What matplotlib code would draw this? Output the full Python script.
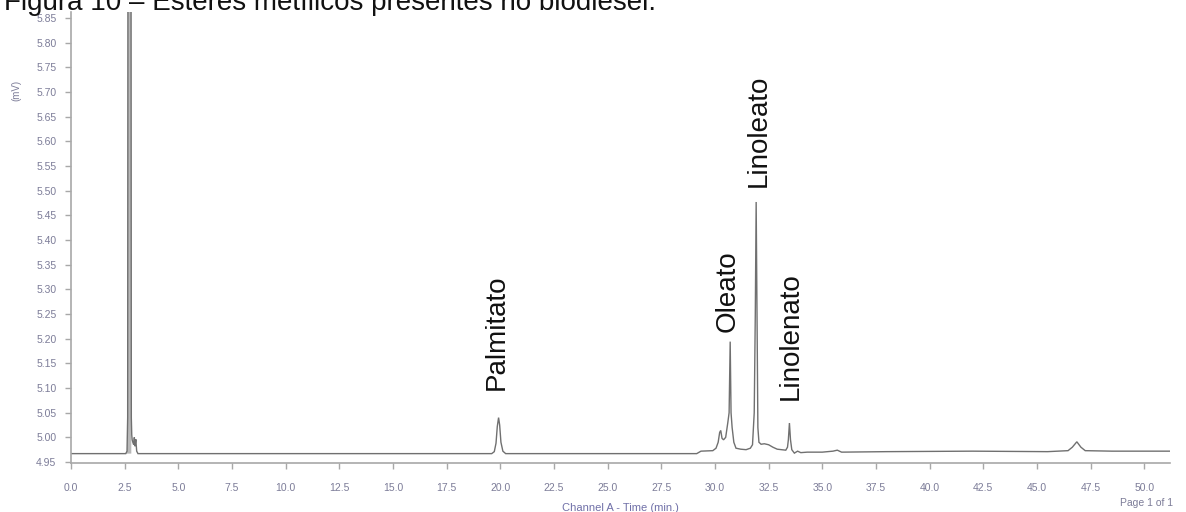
import matplotlib
matplotlib.use("Agg")
import matplotlib.pyplot as plt
from matplotlib.ticker import FixedLocator, FormatStrFormatter

# Chromatogram trace: retention time (min) and detector signal (mV)
time_min = [
    0.00, 2.55, 2.61, 2.64, 2.66, 2.79, 2.81, 2.83, 2.85, 2.88, 2.92, 2.95, 2.98,
    3.02, 3.06, 3.12,
    19.60, 19.72, 19.80, 19.86, 19.92, 19.97, 20.03, 20.12, 20.25,
    29.15, 29.35, 29.90, 30.05, 30.15, 30.22, 30.27, 30.33, 30.40, 30.50, 30.60,
    30.66, 30.71, 30.75, 30.80, 30.88, 30.98, 31.20, 31.45, 31.65, 31.75, 31.83,
    31.88, 31.92, 31.96, 32.00, 32.05, 32.15, 32.30, 32.50, 32.70, 32.90, 33.10,
    33.30, 33.38, 33.42, 33.47, 33.52, 33.58, 33.70, 33.85, 34.00, 34.30, 35.00,
    35.50, 35.70, 35.90, 38.00, 42.00, 45.50, 46.45, 46.65, 46.86, 47.05, 47.25,
    48.50, 51.20,
]
signal_mv = [
    4.967, 4.967, 4.972, 5.040, 6.500, 6.500, 5.040, 5.005, 4.995, 4.990, 4.985, 5.000, 4.982,
    4.996, 4.972, 4.967,
    4.967, 4.971, 4.988, 5.022, 5.040, 5.025, 4.990, 4.972, 4.967,
    4.967, 4.972, 4.973, 4.978, 4.990, 5.010, 5.014, 4.998, 4.995, 5.000, 5.030,
    5.050, 5.194, 5.050, 5.020, 4.990, 4.978, 4.976, 4.975, 4.978, 4.985, 5.050,
    5.250, 5.477, 5.250, 5.020, 4.990, 4.986, 4.987, 4.985, 4.980, 4.976, 4.975,
    4.974, 4.980, 4.995, 5.029, 4.995, 4.975, 4.968, 4.972, 4.969, 4.970, 4.970,
    4.972, 4.974, 4.970, 4.971, 4.972, 4.971, 4.973, 4.980, 4.991, 4.980, 4.973,
    4.972, 4.972,
]

# Identified methyl esters and where their names are written (min, mV)
peak_names = ["Palmitato", "Oleato", "Linoleato", "Linolenato"]
label_x = [19.83, 30.57, 32.06, 33.53]
label_y = [5.2125, 5.2956, 5.621, 5.2054]

x_ticks = [i * 2.5 for i in range(21)]
y_ticks = [4.95 + 0.05 * i for i in range(19)]

W, H = 1186, 512
fig = plt.figure(figsize=(W / 100, H / 100), dpi=100)
ax = fig.add_axes([71 / W, 1 - 463 / H, (1170 - 71) / W, (463 - 12) / H])

trace_color = "#707070"
axis_color = "#a8a8a8"
tick_text = "#7c7c98"

# solvent front drawn as a narrow filled band, then the full trace on top
ax.fill_between(time_min[:7], 4.967, signal_mv[:7], color="#b8b8b8", lw=0)
ax.plot(time_min, signal_mv, color=trace_color, lw=1.0, solid_joinstyle="miter")

ax.set_xlim(0, 51.2)
ax.set_ylim(4.948, 5.862)

for side in ("top", "right"):
    ax.spines[side].set_visible(False)
for side in ("left", "bottom"):
    ax.spines[side].set_color(axis_color)
    ax.spines[side].set_linewidth(1.2)

ax.xaxis.set_major_locator(FixedLocator(x_ticks))
ax.yaxis.set_major_locator(FixedLocator(y_ticks))
ax.xaxis.set_major_formatter(FormatStrFormatter("%.1f"))
ax.yaxis.set_major_formatter(FormatStrFormatter("%.2f"))
ax.tick_params(axis="both", colors=axis_color, labelcolor=tick_text,
               labelsize=7.5, width=1.0, length=4.5, direction="out")
ax.tick_params(axis="y", pad=6)
ax.tick_params(axis="x", pad=10)
for lab in ax.get_xticklabels() + ax.get_yticklabels():
    lab.set_family("Liberation Sans")

ax.set_ylabel("(mV)", fontsize=7, color=tick_text, family="Liberation Sans",
              labelpad=0)
ax.yaxis.set_label_coords(-50 / (1170 - 71), (463 - 90) / (463 - 12))

for name, lx, ly in zip(peak_names, label_x, label_y):
    ax.text(lx, ly, name, rotation=90, ha="center", va="center",
            fontsize=20, family="Liberation Sans", color="#111111")

fig.text(620 / W, 1 - 508 / H, "Channel A - Time (min.)", ha="center",
         va="center", fontsize=8, color="#7070a8", family="Liberation Sans")
fig.text(1173 / W, 1 - 503 / H, "Page 1 of 1", ha="right", va="center",
         fontsize=7.5, color=tick_text, family="Liberation Sans")

fig.text(4 / W, 1 - 10 / H, "Figura 10 – Ésteres metílicos presentes no biodiesel.",
         ha="left", va="baseline", fontsize=20, family="Liberation Sans",
         color="#111111")

fig.savefig("out.png", dpi=100)
